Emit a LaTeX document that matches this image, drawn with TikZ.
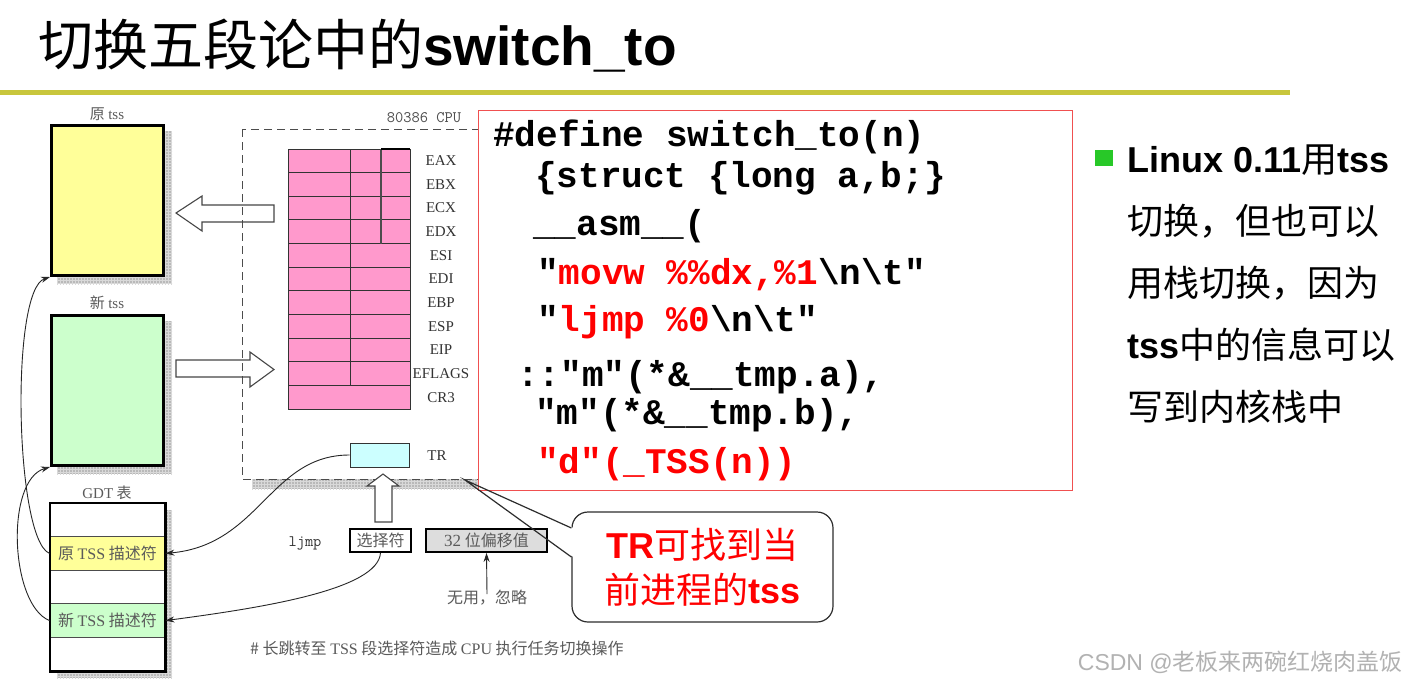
\documentclass[tikz,border=0pt]{standalone}
\usepackage{fontspec}
\setmainfont{Liberation Sans}
\newfontfamily\cjk{Noto Sans CJK SC}
\newfontfamily\codefont{Liberation Mono}
\newfontfamily\serifla{Liberation Serif}
\usetikzlibrary{arrows.meta,patterns,calc}

\definecolor{olivebar}{RGB}{200,198,60}
\definecolor{tssyellow}{RGB}{255,255,153}
\definecolor{tssgreen}{RGB}{204,255,204}
\definecolor{regpink}{RGB}{255,153,204}
\definecolor{trcyan}{RGB}{204,255,255}
\definecolor{codered}{RGB}{255,0,0}
\definecolor{boxred}{RGB}{240,80,80}
\definecolor{bulletgreen}{RGB}{40,200,40}
\definecolor{labelgray}{RGB}{90,90,90}
\definecolor{offgray}{RGB}{221,221,221}

\newcommand\fsz[1]{\fontsize{#1}{#1}\selectfont}

\begin{document}
\begin{tikzpicture}[x=1pt,y=-1pt,
  tssbox/.style={draw=black, line width=3pt, minimum width=112pt, minimum height=150pt, inner sep=0pt},
  shadestrip/.style={fill=gray!55, postaction={pattern=grid, pattern color=gray!30}},
  dlabel/.style={font=\cjk\fsz{15}, text=labelgray, inner sep=0pt},
  reglbl/.style={font=\serifla\fsz{15}, text=black!80, inner sep=0pt},
  gdtrow/.style={draw=gray!60!black, line width=0.8pt, minimum width=115pt, minimum height=33.6pt, inner sep=0pt, font=\cjk\fsz{16}, text=labelgray},
  blockarrow/.style={draw=gray!55!black, line width=1.1pt, line join=miter},
  conn/.style={draw=black!85, line width=0.9pt, -{Stealth[length=9pt,width=6pt]}},
  codeline/.style={anchor=base west, inner sep=0pt, font=\codefont\bfseries\fsz{36}},
  sidetext/.style={anchor=base west, inner sep=0pt, font=\fsz{36}},
  smallbox/.style={draw=black, line width=1.8pt, minimum height=23pt, inner sep=0pt, font=\cjk\fsz{16}, text=labelgray}
]
\useasboundingbox (0,0) rectangle (1408,688);
\fill[white] (0,0) rectangle (1408,688);

% heading and rule
\node[anchor=base west, inner sep=0pt] (title) at (38,65)
  {\fsz{55}{\cjk 切换五段论中的}\bfseries switch\_to};
\fill[olivebar] (0,90) rectangle (1290,95);

% ---- task state segments ----
\fill[shadestrip] (57,131) rectangle (172,284);
\fill[shadestrip] (57,321) rectangle (172,474);
\node[dlabel] (lblold) at (107,114) {原 {\serifla tss}};
\node[tssbox, fill=tssyellow] (tssold) at (107.5,200.5) {};
\node[dlabel] (lblnew) at (107,303) {新 {\serifla tss}};
\node[tssbox, fill=tssgreen] (tssnew) at (107.5,390.5) {};

% ---- CPU ----
\fill[shadestrip] (252,139) rectangle (489,489);
\fill[white] (242,129) rectangle (479,479);
\draw[dash pattern=on 8pt off 5pt, line width=1pt, draw=black!70] (242,129) rectangle (479,479);
\node[font=\ttfamily\fsz{16}, text=gray!60!black, inner sep=0pt] (cpulbl) at (424,118) {80386 CPU};

% register file
\fill[regpink] (288,149) rectangle (410,409);
\foreach \i in {1,...,10}
  \draw[black!80, line width=0.9pt] (288,{149+23.636*\i}) -- (410,{149+23.636*\i});
\draw[black!80, line width=0.9pt] (288,149) rectangle (410,409);
\draw[black!80, line width=0.9pt] (350,149) -- (350,385.4);
\draw[black!70, line width=1.4pt] (381,149) -- (381,243.5);
\draw[black, line width=2pt] (381,149) -- (410,149);
\foreach \name [count=\i from 0] in {EAX,EBX,ECX,EDX,ESI,EDI,EBP,ESP,EIP,EFLAGS,CR3}
  \node[reglbl] (reg\i) at (441,{149+23.636*(\i+0.5)}) {\name};

\node[draw=black!80, line width=0.9pt, fill=trcyan, minimum width=59pt, minimum height=24pt, inner sep=0pt] (tr) at (379.5,455) {};
\node[reglbl] (trlbl) at (437,456) {TR};

% block arrows between CPU and the TSS boxes
\draw[blockarrow] (274,205) -- (202,205) -- (202,196) -- (176,213) -- (202,231) -- (202,222) -- (274,222) -- cycle;
\draw[blockarrow] (176,360) -- (250,360) -- (250,352) -- (274,369.5) -- (250,387) -- (250,377) -- (176,377) -- cycle;
\draw[blockarrow, fill=white] (375,522) -- (375,486) -- (367,486) -- (383,474) -- (399,486) -- (392,486) -- (392,522) -- cycle;

% ---- ljmp operand ----
\node[font=\ttfamily\fsz{16}, text=black!80, inner sep=0pt] (ljmp) at (305,543) {ljmp};
\node[smallbox, minimum width=61pt] (sel) at (380.5,540.5) {选择符};
\node[smallbox, minimum width=121pt, fill=offgray] (offs) at (486.5,540.5) {{\serifla\fsz{17}32} 位偏移值};
\node[font=\cjk\fsz{16}, text=labelgray, inner sep=0pt] (nouse) at (487,598) {无用，忽略};
\draw[black!85, line width=0.9pt, -{Stealth[length=9pt,width=6pt]}] ([yshift=-4pt]nouse.north) -- (offs.south);
\node[anchor=west, font=\cjk\fsz{16}, text=labelgray, inner sep=0pt] (caption) at (250,648)
  {\# 长跳转至 {\serifla TSS} 段选择符造成 {\serifla CPU} 执行任务切换操作};

% ---- GDT ----
\node[dlabel] (lblgdt) at (107,493) {{\serifla GDT} 表};
\fill[shadestrip] (57,510) rectangle (172,678);
\node[gdtrow, fill=white] (g0) at (107.5,519.8) {};
\node[gdtrow, fill=tssyellow] (gold) at (107.5,553.4) {原 {\serifla TSS} 描述符};
\node[gdtrow, fill=white] (g2) at (107.5,587) {};
\node[gdtrow, fill=tssgreen] (gnew) at (107.5,620.6) {新 {\serifla TSS} 描述符};
\node[gdtrow, fill=white] (g4) at (107.5,654.2) {};
\draw[black, line width=2.2pt] (g0.north west) rectangle (g4.south east);

% descriptor links
\draw[conn] (tr.west) .. controls (270,455) and (260,545) .. (gold.east);
\draw[conn] (sel.south) .. controls (378,590) and (260,608) .. (gnew.east);
\draw[conn] (gold.west) .. controls (15,540) and (10,290) .. (tssold.south west);
\draw[conn] (gnew.west) .. controls (10,605) and (5,480) .. (tssnew.south west);

% ---- switch_to source ----
\node[draw=boxred, line width=1.6pt, fill=white, minimum width=594pt, minimum height=380pt, inner sep=0pt] (codebox) at (775.5,300.5) {};
\node[codeline] (c1) at (493,146) {\#define switch\_to(n)};
\node[codeline] (c2) at (535,187) {\{struct \{long a,b;\}};
\node[codeline] (c3) at (533,235) {\_\_asm\_\_(};
\node[codeline] (c4) at (537,284) {"\textcolor{codered}{movw \%\%dx,\%1}\textbackslash n\textbackslash t"};
\node[codeline] (c5) at (537,331) {"\textcolor{codered}{ljmp \%0}\textbackslash n\textbackslash t"};
\node[codeline] (c6) at (517,386) {::"m"(*\&\_\_tmp.a),};
\node[codeline] (c7) at (535,424) {"m"(*\&\_\_tmp.b),};
\node[codeline, text=codered] (c8) at (537,473) {"d"(\_TSS(n))};

% ---- callout ----
\node[draw=gray!35!black, line width=1.2pt, fill=white, rounded corners=16pt, minimum width=261pt, minimum height=110pt, inner sep=0pt, align=center, text=codered, font=\fsz{36}] (callout) at (702.5,567)
  {\bfseries TR{\mdseries\cjk 可找到当}\\[9pt]{\cjk 前进程的}\bfseries tss};
\coordinate (tip) at (465,480);
\coordinate (ptA) at ($(callout.west)+(0,-39)$);
\coordinate (ptB) at ($(callout.west)+(0,-10)$);
\fill[white] ($(tip)!0.85!(ptA)$) -- ($(ptA)+(2,0)$) -- ($(ptB)+(2,0)$) -- ($(tip)!0.85!(ptB)$) -- cycle;
\draw[gray!35!black, line width=1.2pt] (ptA) -- (tip) -- (ptB);

% ---- side note ----
\fill[bulletgreen] (1095,150) rectangle (1113,166);
\node[sidetext] (s1) at (1127,172) {\bfseries Linux 0.11{\mdseries\cjk 用}tss};
\node[sidetext] (s2) at (1127,234) {\cjk 切换，但也可以};
\node[sidetext] (s3) at (1127,296) {\cjk 用栈切换，因为};
\node[sidetext] (s4) at (1127,358) {\bfseries tss{\mdseries\cjk 中的信息可以}};
\node[sidetext] (s5) at (1127,420) {\cjk 写到内核栈中};

% ---- credit ----
\node[anchor=base east, inner sep=0pt, text=gray!60, font=\fsz{23}] (credit) at (1403,670) {CSDN @{\cjk 老板来两碗红烧肉盖饭}};
\end{tikzpicture}
\end{document}
